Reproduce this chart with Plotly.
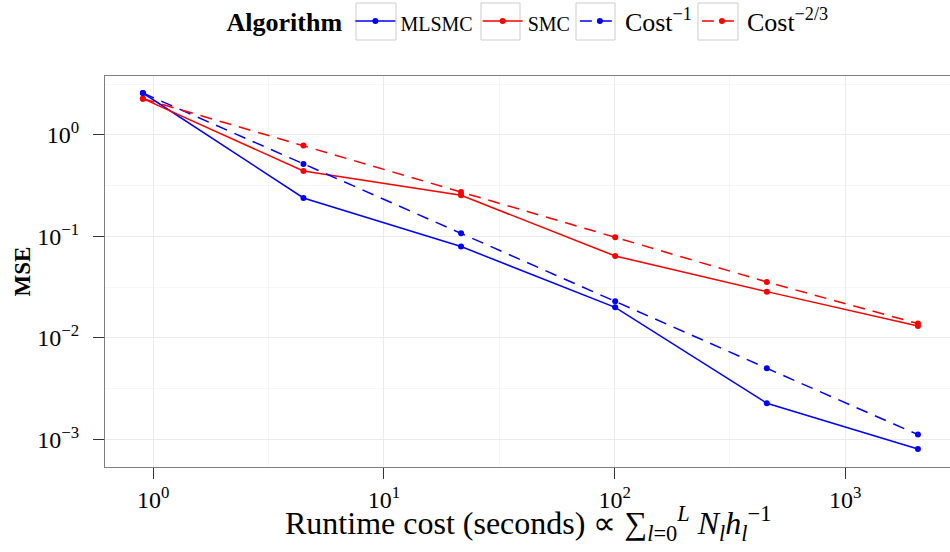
import plotly.graph_objects as go

# Data
runtime = [0.902, 4.48, 21.6, 100.6, 457, 2065]
mlsmc = [2.58, 0.239, 0.0794, 0.02005, 0.002277, 0.000808]
smc = [2.27, 0.440, 0.254, 0.0641, 0.0286, 0.01312]
cost_inv = [2.58, 0.516, 0.1073, 0.0230, 0.00503, 0.001119]
cost_inv23 = [2.27, 0.783, 0.2735, 0.098, 0.0356, 0.01386]

series_names = ['<span style="font-size:20px">MLSMC</span>',
                '<span style="font-size:20px">SMC</span>',
                'Cost<sup>−1</sup>',
                'Cost<sup>−2/3</sup>']
series_values = [mlsmc, smc, cost_inv, cost_inv23]
series_colors = ['#0000ff', '#ff0000', '#0000ff', '#ff0000']
series_dash = ['solid', 'solid', '12px,8px', '12px,8px']

x_tickvals = [1, 10, 100, 1000]
x_ticktext = ['10<sup>0</sup>', '10<sup>1</sup>', '10<sup>2</sup>', '10<sup>3</sup>']
y_tickvals = [1, 0.1, 0.01, 0.001]
y_ticktext = ['10<sup>0</sup>', '10<sup>−1</sup>', '10<sup>−2</sup>', '10<sup>−3</sup>']
x_minor = [10 ** 0.5, 10 ** 1.5, 10 ** 2.5, 10 ** 3.5]
y_minor = [10 ** 0.5, 10 ** -0.5, 10 ** -1.5, 10 ** -2.5, 10 ** -3.5]
x_title = 'Runtime cost (seconds) ∝ ∑<sub><i>l</i>=0</sub><sup><i>L</i></sup> <i>N<sub>l</sub>h<sub>l</sub></i><sup>−1</sup>'

FONT = 'Liberation Serif'

# page layout helpers (plot area in figure pixels)
W, H = 950, 552
ML, MR, MT, MB = 105, 0, 76, 85
PW, PH = W - ML - MR, H - MT - MB


def px_to_paper_x(page_x):
    return (page_x - ML) / PW


def px_to_paper_y(page_y):
    return (H - MB - page_y) / PH


fig = go.Figure()
for name, vals, col, dash in zip(series_names, series_values, series_colors, series_dash):
    fig.add_trace(go.Scatter(
        x=runtime, y=vals, name=name, mode='lines+markers',
        line=dict(color=col, width=1.5, dash=dash),
        marker=dict(color=col, size=6),
    ))

axis_common = dict(
    type='log', showline=True, mirror=True, linecolor='#7f7f7f', linewidth=1,
    ticks='outside', ticklen=11, tickwidth=1, tickcolor='#333333',
    showgrid=True, gridcolor='#ebebeb', gridwidth=1, zeroline=False,
    tickfont=dict(family=FONT, size=24, color='#000000'),
    automargin=False,
)

fig.update_xaxes(
    **axis_common,
    range=[-0.209, 3.454],
    tickvals=x_tickvals, ticktext=x_ticktext,
    minor=dict(tickvals=x_minor, showgrid=True, gridcolor='#f5f5f5', ticklen=0),
)
fig.update_yaxes(
    **axis_common,
    range=[-3.270, 0.579],
    tickvals=y_tickvals, ticktext=y_ticktext,
    ticklabelstandoff=9,
    minor=dict(tickvals=y_minor, showgrid=True, gridcolor='#f5f5f5', ticklen=0),
    title=dict(text='<b>MSE</b>', font=dict(family=FONT, size=23, color='#000000'), standoff=0),
)

fig.add_annotation(
    text=x_title, xref='paper', yref='paper',
    x=px_to_paper_x(528), y=px_to_paper_y(523), xanchor='center', yanchor='middle',
    showarrow=False, font=dict(family=FONT, size=32, color='#000000'),
)

# legend key boxes (ggplot-style frames around the legend keys)
for x0, x1 in [(356, 396), (481, 520), (576, 615), (698, 738)]:
    fig.add_shape(
        type='rect', xref='paper', yref='paper', layer='below',
        x0=px_to_paper_x(x0), x1=px_to_paper_x(x1),
        y0=px_to_paper_y(3), y1=px_to_paper_y(40),
        line=dict(color='#cccccc', width=1), fillcolor='white',
    )

fig.update_layout(
    width=W, height=H,
    margin=dict(l=ML, r=MR, t=MT, b=MB, autoexpand=False),
    paper_bgcolor='white', plot_bgcolor='white',
    font=dict(family=FONT, size=26, color='#000000'),
    legend=dict(
        orientation='h', x=px_to_paper_x(529), xanchor='center',
        y=px_to_paper_y(21), yanchor='middle', yref='paper',
        title=dict(text='<b>Algorithm</b>', font=dict(family=FONT, size=26)),
        font=dict(family=FONT, size=26),
        itemwidth=40, tracegroupgap=0, bgcolor='rgba(0,0,0,0)',
    ),
)

fig.write_html('out.html', config={'displayModeBar': False},
               post_script="document.body.style.margin='0px';")
